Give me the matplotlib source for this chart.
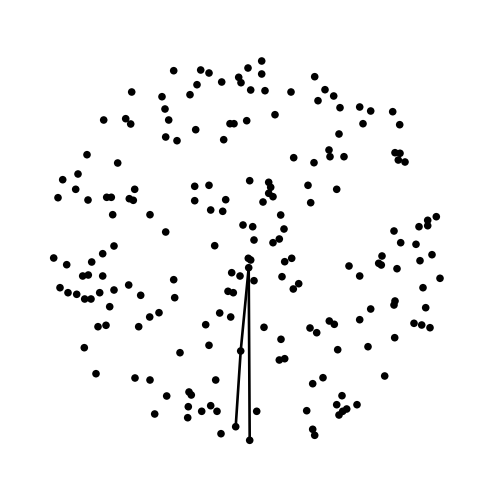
import matplotlib
matplotlib.use("Agg")
import matplotlib.pyplot as plt

# node positions (pixel units, y down)
node_x = [
    173.7, 131.7, 162, 165, 168.7, 103.7, 125.7, 130.7, 165.7, 177, 87, 117.7, 78, 62.7, 75.7, 134.7,
    200.7, 209, 248, 261.7, 261.7, 197, 221.7, 238.7, 241, 190, 250.7, 265, 291, 314.7, 318, 275,
    230, 234, 246.7, 195.7, 223.7, 293.7, 314, 249.7, 268.7, 270.7, 194.7, 209, 308,
    325, 333.7, 340, 359.7, 370.7, 392.7, 363, 399.7, 339, 329, 330, 344, 395, 400, 398.3, 405, 336.7,
    58, 88, 106.7, 111.3, 129.3, 133.3, 112.7, 150, 165.7, 114, 102.7, 53.7, 66.7, 91.7, 82.7, 88.3,
    102.7, 173.7, 60, 68, 76.7, 84.7, 91, 99.7, 114, 128.7, 140.7, 174.7, 109.7, 159, 149.7, 98, 106, 138.7,
    194.7, 225.7, 210.7, 222.7, 263, 268.7, 273, 310.7, 280.7, 284, 279.3, 273, 243, 252.7, 254, 214.7,
    248.3, 250.7, 248.7, 231.7, 240, 254, 284.7, 291.7, 282, 298.7, 293.3, 228, 233.3, 219.7, 230.7,
    205.7, 264, 310,
    436.3, 427.7, 427.7, 419, 394, 400.7, 416, 432, 420, 382, 378.7, 381.3, 397, 349, 359.7, 440, 423,
    395, 394, 370.7, 425.7, 359.7, 329.3, 334.3, 414, 421.7, 430,
    84.3, 180, 96, 135, 150, 166.7, 154.7,
    281, 316.7, 209, 240.7, 279.3, 284.7, 215.7, 189, 191.3, 312.7, 188.3, 201.7, 210.7, 217, 187.7,
    256.7, 306.7, 235.7, 221, 249.7, 312.7, 314.7,
    394.7, 337.7, 368, 323, 384.7, 342, 336.7, 357, 346.7, 342.7, 339,
]
node_y = [
    70.7, 92, 96.7, 109, 120, 120, 118.7, 124, 137, 140.7, 154.7, 163, 174, 179.7, 189.3, 189.3,
    70, 73, 68, 61, 74, 84.7, 82, 77.3, 82.7, 94.7, 90, 90.7, 92, 76.7, 100.7, 114.7,
    123.7, 123.7, 120.7, 129.7, 139.7, 157.7, 162.7, 180.7, 182.3, 187.3, 186.3, 185.3, 185.3,
    89.7, 96, 107.7, 107, 111, 111.7, 123.7, 124.7, 134, 150, 156.7, 156.7, 152.7, 153.3, 160, 162, 189.3,
    197.7, 200, 197.3, 197.3, 198.7, 200.3, 214.7, 214.7, 232, 246, 253.7, 258, 264.7, 262, 276, 275,
    276, 279.7, 287.7, 292.7, 294.3, 299, 299, 292.7, 290, 285, 295.3, 297.7, 306.7, 312.7, 317, 326.7, 325.3, 326.7,
    200.7, 199.7, 210, 211.3, 202, 193.3, 196.7, 202.7, 215, 229, 239, 242.7, 225, 226.7, 240, 245.7,
    258.3, 260, 267.7, 272.7, 276, 280.7, 261.7, 258.3, 276.7, 283.7, 289, 291.3, 292.7, 313, 317,
    324.7, 327.3, 328,
    216.7, 220.3, 225.7, 226.7, 231, 242.7, 244.3, 254.7, 260.7, 256, 263.3, 265, 268.7, 266, 276, 278.3, 287.7,
    301, 305, 309, 307.7, 319.7, 321, 324.3, 323.3, 325, 327.7,
    347.7, 352.7, 373.7, 378, 380, 396, 414,
    339.3, 332.7, 345.3, 351, 360, 358.7, 380, 392, 395, 383.7, 406.7, 411.3, 405.7, 411.3, 417.7,
    411.3, 410.7, 426.7, 433.7, 440.3, 429.3, 435.3,
    337.7, 349.7, 346.7, 377.7, 376, 395.7, 404.7, 404.7, 409, 411.3, 415,
]

# edges: hub -> middle node -> lower node, and hub -> bottom node
hub = node_x.index(248.7)
mid = node_x.index(240.7)
low = node_x.index(235.7)
bottom = node_x.index(249.7, 60)
edges = [(hub, mid), (mid, low), (hub, bottom)]

fig = plt.figure(figsize=(5, 5), dpi=100)
ax = fig.add_axes([0, 0, 1, 1])

for a, b in edges:
    ax.plot([node_x[a], node_x[b]], [node_y[a], node_y[b]], color="black", lw=1.9, zorder=1)

ax.scatter(node_x, node_y, s=30, color="black", edgecolors="none", zorder=2)

ax.set_xlim(0, 500)
ax.set_ylim(500, 0)
ax.axis("off")

fig.savefig("out.png", dpi=100)
